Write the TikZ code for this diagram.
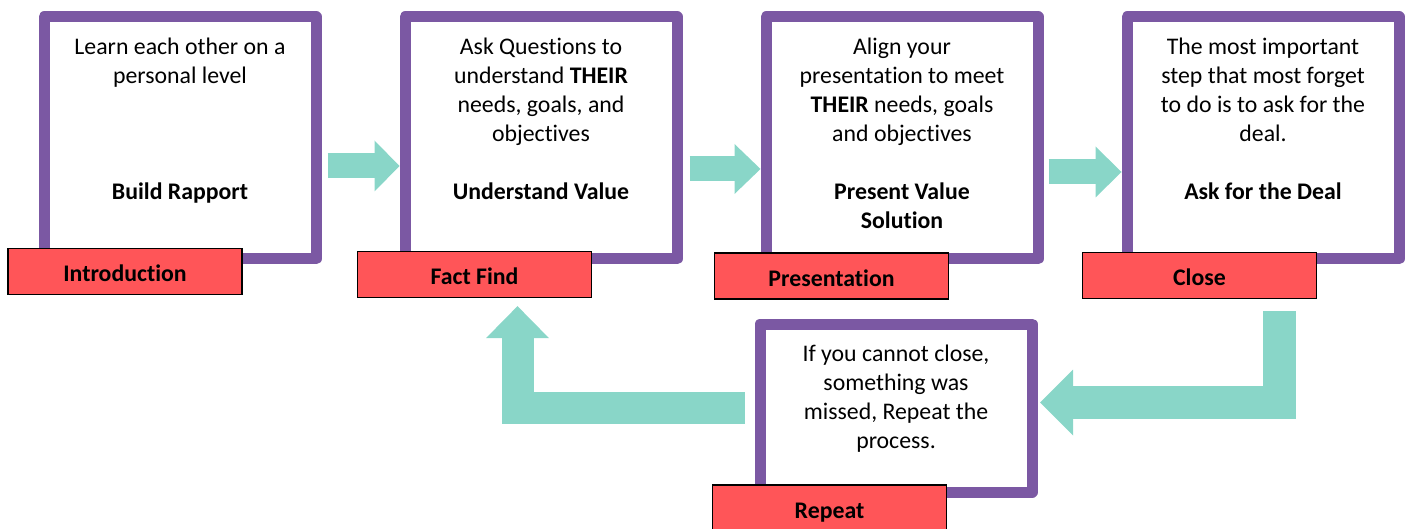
\documentclass[tikz,border=0pt]{standalone}
\usepackage{fontspec}
\setmainfont{Carlito}[Ligatures=NoCommon]
\usepackage{xcolor}
\usetikzlibrary{positioning,calc,arrows.meta}

\definecolor{stagepurple}{RGB}{123,88,163}
\definecolor{tagred}{RGB}{255,85,88}
\definecolor{flowteal}{RGB}{137,214,200}

\newcommand{\stagetext}[2][208pt]{\parbox[t][#1][t]{250pt}{\centering\strut #2}}

\begin{document}
\begin{tikzpicture}[x=1pt, y=-1pt, node distance={78pt},
    font=\fontsize{23.8}{29}\selectfont,
    stage/.style = {draw=stagepurple, line width=11pt, line join=round, fill=white, minimum width=272pt, minimum height=242pt, inner xsep=0pt, inner ysep=17pt},
    tag/.style = {draw=black, line width=1.3pt, fill=tagred, minimum width=234pt, minimum height=46pt, text height=21pt, text depth=0pt, font=\fontsize{23.8}{29}\selectfont\bfseries},
    flow/.style = {draw=flowteal, line width=25pt},
    backflow/.style = {draw=flowteal, line width=#1, line join=miter}]
    \useasboundingbox (0,0) rectangle (1408,529);
    \node[stage] (b1) at (180,138) {\stagetext{Learn each other on a\\ personal level\\[87pt] \textbf{Build Rapport}}};
    \node[stage] (b2) [right=of b1] {\stagetext{Ask Questions to\\ understand \textbf{THEIR}\\ needs, goals, and\\ objectives\\[29pt] \textbf{Understand Value}}};
    \node[stage] (b3) [right=of b2] {\stagetext{Align your\\ presentation to meet\\ \textbf{THEIR} needs, goals\\ and objectives\\[29pt] \textbf{Present Value}\\ \textbf{Solution}}};
    \node[stage] (b4) [right=of b3] {\stagetext{The most important\\ step that most forget\\ to do is to ask for the\\ deal.\\[29pt] \textbf{Ask for the Deal}}};
    \node[stage, minimum height=168pt] (b5) [below=54pt of b3, xshift=-6pt] {\stagetext[134pt]{If you cannot close,\\ something was\\ missed, Repeat the\\ process.}};
    \node[tag] (t1) at ($(b1.south west)+(86.5,7)$) {Introduction};
    \node[tag] (t2) at ($(b2.south west)+(75,10)$) {Fact Find};
    \node[tag] (t3) at ($(b3.south west)+(71,11.5)$) {Presentation};
    \node[tag] (t4) at ($(b4.south west)+(78,11)$) {Close};
    \node[tag] (t5) at ($(b5.south west)+(75,10.5)$) {Repeat};
    \draw[flow, -{Triangle[length=25pt,width=51pt,line width=0pt]}] ([xshift=6pt,yshift=-28pt]b1.east) -- ([yshift=-28pt]b2.west);
    \draw[flow, -{Triangle[length=26pt,width=50pt,line width=0pt]}] ([xshift=7pt,yshift=-31pt]b2.east) -- ([yshift=-31pt]b3.west);
    \draw[flow, -{Triangle[length=26pt,width=51pt,line width=0pt]}] ([xshift=5pt,yshift=-34pt]b3.east) -- ([yshift=-34pt]b4.west);
    \draw[backflow=33pt, -{Triangle[length=33pt,width=66pt,line width=0pt]}] ([xshift=79.5pt,yshift=-12pt]t4.south) |- ([xshift=2.5pt,yshift=5.5pt]b5.east);
    \draw[backflow=32pt, -{Triangle[length=32pt,width=63pt,line width=0pt]}] ([xshift=-10pt]b5.west) -| ([xshift=43pt,yshift=-8pt]t2.south);
\end{tikzpicture}
\end{document}
